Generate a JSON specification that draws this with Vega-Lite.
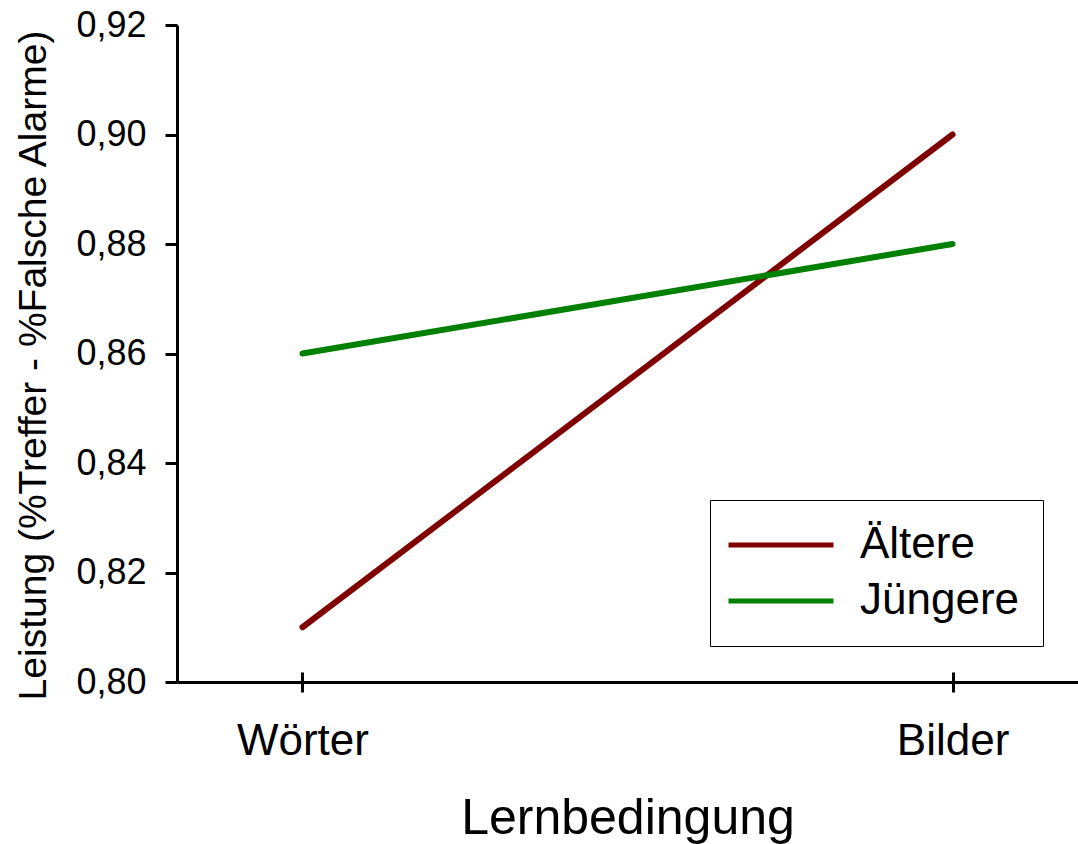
{
  "$schema": "https://vega.github.io/schema/vega-lite/v6.json",
  "width": 901,
  "height": 657,
  "autosize": {"type": "none"},
  "padding": {"left": 177, "top": 25, "right": 0, "bottom": 162},
  "background": "white",
  "data": {
    "values": [
      {"Bedingung": "Wörter", "Gruppe": "Ältere", "Leistung": 0.81},
      {"Bedingung": "Bilder", "Gruppe": "Ältere", "Leistung": 0.90},
      {"Bedingung": "Wörter", "Gruppe": "Jüngere", "Leistung": 0.86},
      {"Bedingung": "Bilder", "Gruppe": "Jüngere", "Leistung": 0.88}
    ]
  },
  "config": {
    "font": "Liberation Sans",
    "view": {"stroke": null},
    "axis": {"grid": false, "domainColor": "black", "tickColor": "black", "labelColor": "black", "titleColor": "black", "domainWidth": 3, "tickWidth": 3, "titleFontWeight": "normal", "labelFont": "Liberation Sans", "titleFont": "Liberation Sans"}
  },
  "layer": [
    {
      "mark": {"type": "line", "strokeWidth": 6, "strokeCap": "round"},
      "encoding": {
        "x": {
          "field": "Bedingung", "type": "ordinal", "sort": ["Wörter", "Bilder"],
          "scale": {"type": "point", "padding": 0.193},
          "axis": {"title": "Lernbedingung", "labelAngle": 0, "labelFontSize": 44, "titleFontSize": 50, "tickSize": 10, "labelPadding": 27, "titlePadding": 30}
        },
        "y": {
          "field": "Leistung", "type": "quantitative",
          "scale": {"domain": [0.8, 0.92], "zero": false, "nice": false},
          "axis": {
            "title": "Leistung (%Treffer - %Falsche Alarme)",
            "values": [0.8, 0.82, 0.84, 0.86, 0.88, 0.9, 0.92],
            "labelExpr": "replace(format(datum.value, '.2f'), '.', ',')",
            "labelFontSize": 36, "titleFontSize": 39, "tickSize": 12, "labelPadding": 19,
            "titleAngle": 270, "titleAlign": "center", "titleBaseline": "alphabetic", "titleX": -132, "titleY": 340
          }
        },
        "color": {
          "field": "Gruppe", "type": "nominal",
          "scale": {"domain": ["Ältere", "Jüngere"], "range": ["#800000", "#008000"]},
          "legend": {
            "title": null, "orient": "none", "legendX": 533, "legendY": 475,
            "symbolType": "M-5,0H5", "symbolSize": 441, "symbolStrokeWidth": 5, "symbolOffset": 26,
            "labelFontSize": 44, "labelOffset": 57, "padding": 23, "rowPadding": 12,
            "strokeColor": "black", "fillColor": "white", "labelColor": "black", "labelFont": "Liberation Sans"
          }
        }
      }
    },
    {
      "mark": {"type": "line", "opacity": 0},
      "encoding": {
        "x": {
          "field": "Bedingung", "type": "ordinal", "sort": ["Wörter", "Bilder"],
          "axis": {"orient": "bottom", "title": null, "labels": false, "domain": false, "tickSize": -10}
        },
        "y": {"field": "Leistung", "type": "quantitative"}
      }
    }
  ],
  "resolve": {"axis": {"x": "independent"}}
}
